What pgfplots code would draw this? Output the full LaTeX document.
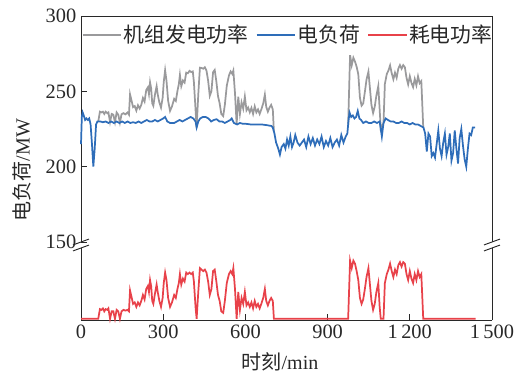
\documentclass[border=0pt]{standalone}
\usepackage{fontspec}
\setmainfont{Liberation Serif}
\newfontfamily\cjk{Noto Sans CJK SC}
\usepackage{pgfplots}
\pgfplotsset{compat=1.18}
\usepackage{pgfplotstable}
\definecolor{cgray}{RGB}{154,154,156}
\definecolor{cblue}{RGB}{46,109,185}
\definecolor{cred}{RGB}{232,66,74}
\definecolor{cax}{RGB}{40,40,40}

\pgfplotstableread{
t y
0 215
3 233
6 236
10 234
15 231
20 232
25 231
30 232
35 228
40 215
45 200
50 212
55 228
60 230
70 230
80 229.5
90 230
100 229
110 230
120 229
130 230
140 229
150 230
160 229
170 230
180 229
190 229.5
200 229
210 230
220 229
230 230
240 231
250 230
260 230
270 231
280 230
290 231
300 232
307 233
315 230
325 229
340 229
350 230
360 231
370 230
380 231
390 232
400 233
410 232
418 230
422 226
428 230
435 232
445 233
455 233
465 232
475 230
485 231
495 231.5
505 230
515 230
525 229
535 230
545 231
550 232
558 229
570 228
580 229
590 228.5
600 228.5
620 228
640 228
660 228
680 227.5
695 227
700 226
706 222
712 216
720 212
726 208
732 213
740 215
746 212
752 218
758 214
764 220
770 213
776 216
782 221
790 216
798 214
806 216
814 218
822 213
830 220
838 215
846 219
854 214
862 218
870 215
878 220
886 213
894 217
902 214
910 219
918 213
926 216
934 218
942 214
950 221
958 216
966 220
972 222
976 230
980 236
986 233
992 234
998 232
1004 233
1010 237
1016 232
1022 231
1030 229
1040 230
1050 229
1060 229
1070 230
1080 229
1090 230
1098 220
1104 229
1112 232
1120 231
1130 230
1140 230
1150 229
1160 229
1170 230
1180 229
1190 229
1200 228
1210 229
1220 228
1230 228
1240 227
1250 226
1256 222
1262 210
1268 222
1274 220
1280 207
1286 209
1292 206
1298 215
1304 224
1310 212
1316 207
1322 216
1328 222
1334 208
1340 213
1346 222
1352 204
1358 209
1364 224
1370 212
1376 202
1382 219
1388 225
1394 214
1400 205
1406 200
1412 212
1418 222
1424 221
1430 226
1438 226
}\loadtab

\pgfplotstableread{
t y
0 0
63 0
69 6.5
75 6
80 7
85 5
90 6.5
96 6
100 7
106 0
112 5
118 5
124 0
130 6
136 5
142 0
148 5
155 6
162 5.5
170 6
175 5
179 19
184 15
190 10
196 11
202 8
208 11
214 9
220 12
226 16
232 13
238 20
244 22
248 18
252 26
256 22
260 12
264 10
270 17
276 23
280 18
286 12
292 8
298 14
302 24
307 31
312 26
318 14
325 8
332 11
340 16
346 14
352 20
357 24
361 30
366 23
372 27
378 25
384 31
390 30
396 31
402 30
408 31
412 25
418 8
422 0
428 18
434 34
440 33
446 32
452 33
458 31
464 25
470 16
476 20
482 32
488 33
494 25
500 16
506 12
512 5
519 4
525 12
532 24
540 30
546 32
552 30
556 34
562 20
568 0
574 18
580 6
586 14
592 10
598 18
604 9
610 11
616 8
622 11
628 7
634 12
640 8
646 10
652 7
658 10
665 14
671 20
676 12
682 9
688 12
694 14
700 12
704 0
975 0
982 39
988 34
994 39
1000 37
1006 32
1012 26
1018 14
1024 10
1030 13
1036 20
1042 28
1049 34
1054 24
1060 12
1066 6
1072 10
1078 18
1085 24
1090 8
1094 0
1104 0
1109 24
1116 30
1122 33
1128 37
1134 32
1140 28
1146 33
1152 30
1158 36
1164 38
1170 35
1176 38
1182 37
1188 30
1194 26
1200 32
1206 27
1212 24
1218 30
1224 26
1230 32
1236 28
1242 30
1249 0
1440 0
}\redtab

\pgfplotstableread{
t y
63 230
69 236.5
75 236
80 236.5
85 235
90 236.5
96 235.5
100 236
106 229.6
112 235
118 234.5
124 229.5
130 236
136 234.5
142 229.2
148 234.8
155 235.5
162 234.7
170 236
175 234.5
179 248
184 244.2
190 239.5
196 240.2
202 237.2
208 240.8
214 238.6
220 241
226 245.6
232 243.2
238 250.8
244 252.6
248 248.2
252 256
256 252
260 242
264 240.4
270 248
276 253.4
280 248
286 242.6
292 239.2
298 245.8
302 256.3
307 264
312 257
318 243.7
325 237
332 240
340 245
346 243.6
352 250.2
357 254.7
361 260.9
366 253.4
372 257.2
378 255.8
384 262.4
390 262
396 263.6
402 262.8
408 263.2
412 256.2
418 238
422 226
428 248
434 265.7
440 265.5
446 265
452 266
458 263.7
464 257.1
470 247
476 250.1
482 262.7
488 264.2
494 256.5
500 246.8
506 242
512 235
519 233.6
525 241
532 253.7
540 260.5
546 263.2
552 261.6
556 263.8
562 248.7
568 228.2
574 246.4
580 235
586 242.7
592 238.5
598 246.5
604 237.4
610 239.3
616 236.1
622 239
628 235
634 240
640 236
646 238
652 235
658 238
665 241.9
671 247.8
676 239.7
682 236.5
688 239.2
694 241
700 238
704 223.3
850 nan
975 228
982 274
988 267.3
994 272.3
1000 269.7
1006 266.3
1012 261.3
1018 245.7
1024 240.5
1030 242
1036 249.6
1042 257.8
1049 263.1
1054 253
1060 241
1066 235.6
1072 239.8
1078 247.2
1085 253.5
1090 238
1094 225
1104 229
1109 254.9
1116 261.5
1122 263.8
1128 267.2
1134 262
1140 258
1146 262.4
1152 259
1158 265
1164 267.4
1170 265
1176 267.4
1182 266
1188 259
1194 254.6
1200 260
1206 255.6
1212 252.8
1218 258.2
1224 254
1230 260
1236 255.4
1242 256.8
1249 226.2
}\gentab

\begin{document}
\begin{tikzpicture}[font=\fontsize{15}{18}\selectfont]
\path[use as bounding box] (0,0) rectangle (395.25pt,281.25pt);
\pgfplotsset{
  every axis/.append style={
    scale only axis, width=308.25pt,
    xmin=0, xmax=1500, clip=false,
    axis line style={-, cax, line width=0.7pt},
    tick align=inside, major tick length=4.5pt,
    every tick/.style={cax, line width=0.7pt},
    tick label style={font=\fontsize{15.3}{18}\selectfont, text=cax},
  }
}
\begin{axis}[
  at={(60.75pt,99.75pt)}, anchor=south west,
  height=169.5pt,
  ymin=150, ymax=300,
  axis x line*=top, axis y line*=box,
  xtick=\empty,
  ytick={150,200,250,300},
  yticklabels={150,200,250,300},
  ytick pos=left,
  legend columns=3,
  legend image code/.code={\draw[#1] (0pt,0pt) -- (29pt,0pt);},
  legend style={at={(0,1)}, anchor=west, yshift=-14.25pt, xshift=0.5pt,
    draw=none, fill=none, inner xsep=0pt, inner ysep=0pt,
    font=\fontsize{15.6}{18}\selectfont, text=cax,
    nodes={inner sep=1pt},
    /tikz/every even column/.append style={column sep=4.5pt}},
]
\addplot[cgray, line width=1.3pt, unbounded coords=jump] table[x=t,y=y] {\gentab};
\addlegendentry{\cjk 机组发电功率}
\addplot[cblue, line width=1.3pt] table[x=t,y=y] {\loadtab};
\addlegendentry{\cjk 电负荷}
\addlegendimage{cred, line width=1.3pt}
\addlegendentry{\cjk 耗电功率}
\end{axis}
\begin{axis}[
  at={(60.75pt,41.25pt)}, anchor=south west,
  height=54pt,
  ymin=-0.8, ymax=47.5,
  axis x line*=bottom, axis y line*=box,
  ytick=\empty,
  xtick={0,300,600,900,1200,1500},
  xticklabels={0,300,600,900,1\,200,1\,500},
  xtick pos=bottom,
]
\addplot[cred, line width=1.3pt] table[x=t,y=y] {\redtab};
\end{axis}
% axis break marks
\foreach \xx in {60.75pt,369pt}{
  \draw[cax, line width=0.7pt] ([xshift=-6pt,yshift=-2.2pt]\xx,99.75pt) -- ([xshift=6pt,yshift=2.2pt]\xx,99.75pt);
  \draw[cax, line width=0.7pt] ([xshift=-6pt,yshift=-2.2pt]\xx,95.25pt) -- ([xshift=6pt,yshift=2.2pt]\xx,95.25pt);
}
\node[rotate=90, text=cax] at (16.5pt,153.75pt) {{\cjk 电负荷}/MW};
\node[text=cax] at (210pt,9.75pt) {{\cjk 时刻}/min};
\end{tikzpicture}
\end{document}
